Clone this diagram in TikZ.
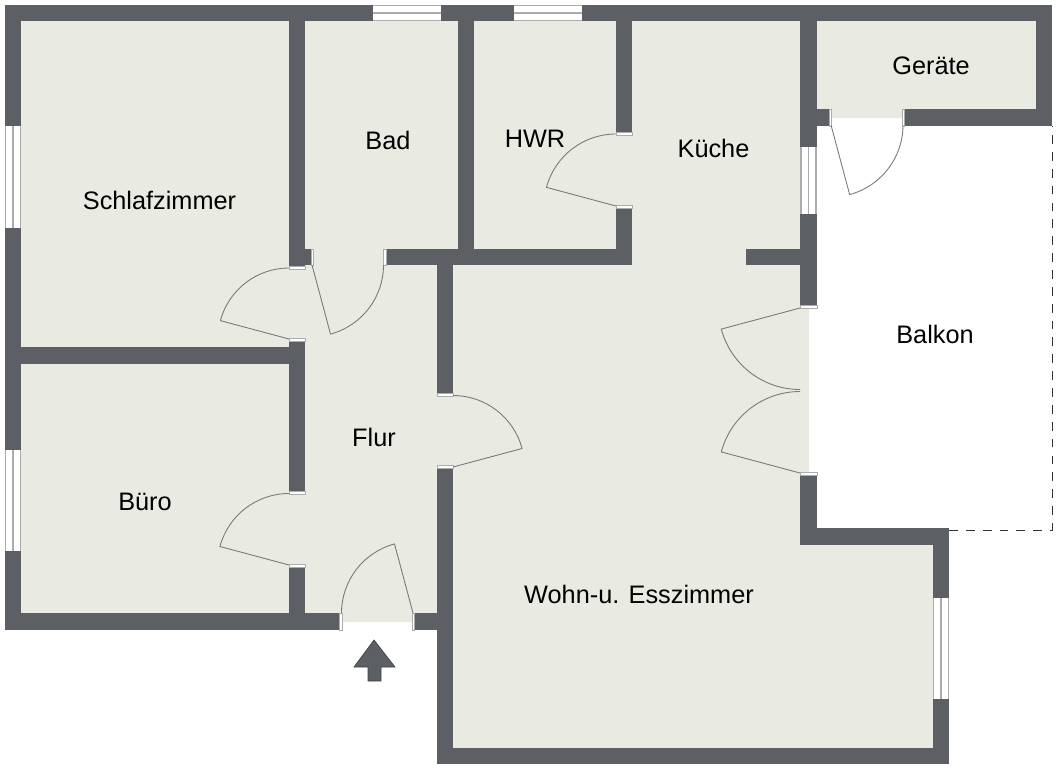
\documentclass[tikz,border=0pt]{standalone}
\usepackage{fontspec}
\setmainfont{Liberation Sans}

\definecolor{floorcol}{HTML}{E9EAE2}
\definecolor{wallcol}{HTML}{5C5F63}
\definecolor{swingcol}{HTML}{77797A}
\definecolor{glasscol}{HTML}{ABACAC}

\tikzset{
	roomlabel/.style = {font = \fontsize{14.4}{16}\selectfont, text = black, inner sep = 0},
	swingline/.style = {swingcol, line width = 0.5pt},
	jamb/.style = {fill = white, draw = glasscol, line width = 0.3pt},
	glassline/.style = {glasscol, line width = 0.8pt}
}

\begin{document}
\begin{tikzpicture}[x = 0.02cm, y = -0.02cm]

	\useasboundingbox (0, 0) rectangle (1057, 768);
	\fill [white] (0, 0) rectangle (1057, 768);

	% Floor

	\fill [floorcol] (13, 13) -- (1044, 13) -- (1044, 118) -- (809, 118) -- (809, 537) -- (941, 537)
		-- (941, 756) -- (445, 756) -- (445, 622) -- (13, 622) -- cycle;

	% Walls

	\foreach \xa/\ya/\xb/\yb in {5/5/1052/21, 5/5/21/630, 5/613/340/630, 414/613/453/630,
		437/249/453/394, 437/467/453/764, 437/748/949/764, 933/528/949/764,
		800/528/949/545, 800/473/817/545, 800/5/817/307, 746/249/800/265,
		458/5/474/265, 385/249/632/265, 616/5/632/133, 616/206/632/265,
		289/5/305/267, 305/249/312/265, 21/347/289/364, 289/340/305/492,
		289/565/305/613, 1036/5/1052/126, 904/109/1052/126, 817/109/830/126}
		\fill [wallcol] (\xa, \ya) rectangle (\xb, \yb);

	% Windows

	\foreach \xa in {373, 514} {
		\fill [white] (\xa, 5) rectangle (\xa + 68, 21);
		\foreach \y in {5.5, 13, 20.5}
			\draw [glassline] (\xa, \y) -- (\xa + 68, \y);
	}
	\foreach \xa/\ya/\yb in {5/126/228, 5/450/551, 933/598/699, 800.5/147/214} {
		\fill [white] (\xa, \ya) rectangle (\xa + 16, \yb);
		\foreach \dx in {0.5, 8, 15.5}
			\draw [glassline] (\xa + \dx, \ya) -- (\xa + \dx, \yb);
	}

	% Door jambs

	\foreach \xa/\ya/\xb/\yb in {289/266/305/269, 289/338/305/341, 437/393/453/396, 437/465/453/468,
		289/491/305/494, 289/564/305/567, 616/132/632/135, 616/205/632/208,
		800/305.5/817/308, 800/472/817/475, 311/249/313.5/265, 383/249/386/265,
		339.5/613/342/630, 412/613/414.5/630, 829/109/831.5/126, 902/109/904.5/126}
		\draw [jamb] (\xa, \ya) rectangle (\xb, \yb);

	% Door swings

	\foreach \hx/\hy/\from/\to/\rad in {289/339/195/270/71, 312/265/75/0/71.5, 453/467/-15/-90/71.5,
		289/565/195/270/71.5, 413/613/255/180/71.5, 616/206/195/270/72, 831/125/75/0/72,
		800/308/165/90/81.5, 800/473/195/270/81.5}
		\draw [swingline] (\hx, \hy) -- ++(\from:\rad) arc [start angle = \from, end angle = \to, radius = \rad];

	% Balcony edge

	\draw [black!80, line width = 0.5pt, dash pattern = on 5pt off 4.6pt] (949, 530) -- (1052, 530) -- (1052, 126);

	% Entrance arrow

	\draw [fill = wallcol, draw = wallcol!70!black, line width = 0.4pt] (374, 640) -- (395, 667) -- (381, 667)
		-- (381, 681) -- (368, 681) -- (368, 667) -- (354, 667) -- cycle;

	% Rooms

	\node [roomlabel] (schlafzimmer) at (159.5, 200) {Schlafzimmer};
	\node [roomlabel] (bad) at (388, 140.5) {Bad};
	\node [roomlabel] (hwr) at (535, 138.5) {HWR};
	\node [roomlabel] (kueche) at (713.5, 148) {Küche};
	\node [roomlabel] (geraete) at (931, 65.5) {Geräte};
	\node [roomlabel] (balkon) at (935, 334.5) {Balkon};
	\node [roomlabel] (flur) at (374, 437) {Flur};
	\node [roomlabel] (buero) at (145, 501.5) {Büro};
	\node [roomlabel] (wohnen) at (639, 594) {Wohn-u. Esszimmer};

\end{tikzpicture}
\end{document}
